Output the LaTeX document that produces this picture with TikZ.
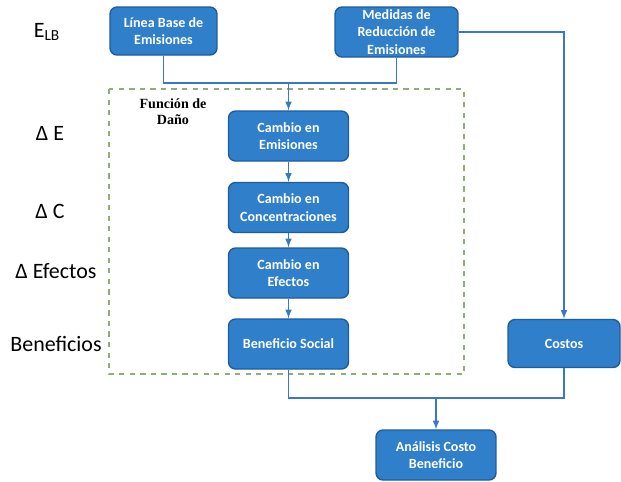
\documentclass[tikz,border=0pt]{standalone}
\usepackage{fontspec}
\setmainfont{Carlito}
\newfontfamily\serifbold{Liberation Serif}
\usetikzlibrary{arrows}
\definecolor{boxblue}{RGB}{47,127,203}
\definecolor{boxline}{RGB}{30,92,158}
\definecolor{linkblue}{RGB}{59,120,196}
\definecolor{dashgreen}{RGB}{143,174,122}

\begin{document}
\begin{tikzpicture}[x=0.02cm, y=-0.02cm]
        \tikzset{box/.style = {shape=rectangle,rounded corners=4pt,draw=boxline,fill=boxblue,line width=0.8pt,text=white,font=\fontsize{8}{10}\selectfont\bfseries,align=center,minimum width=2.4cm,minimum height=1cm,inner sep=1pt},
                 level/.style = {font=\fontsize{12.5}{14}\selectfont},
                 link/.style = {draw=linkblue,line width=0.7pt}}
        \useasboundingbox (0,0) rectangle (621,481);
        % damage function area
        \draw[dashgreen,dashed,line width=0.6pt] (109,89) rectangle (464,374);
        \node[font=\serifbold\fontsize{8}{9}\selectfont\bfseries,align=center] (dano) at (173,112) {Función de\\Daño};
        % boxes
        \node[box,minimum width=2.14cm,minimum height=0.96cm] (base) at (163.5,31) {Línea Base de\\Emisiones};
        \node[box,minimum width=2.46cm] (medidas) at (396.5,32) {Medidas de\\Reducción de\\Emisiones};
        \node[box] (dE) at (288.5,136) {Cambio en\\Emisiones};
        \node[box] (dC) at (288.5,207.5) {Cambio en\\Concentraciones};
        \node[box] (dEf) at (288.5,273) {Cambio en\\Efectos};
        \node[box] (social) at (288.5,344) {Beneficio Social};
        \node[box,minimum width=2.24cm,minimum height=0.96cm] (costos) at (564,343.5) {Costos};
        \node[box] (analisis) at (436,455) {Análisis Costo\\Beneficio};
        % levels
        \node[level] (elb) at (47,32) {E\textsubscript{LB}};
        \node[level] (deltaE) at (50,133) {Δ E};
        \node[level] (deltaC) at (50,211) {Δ C};
        \node[level] (deltaEf) at (56,271) {Δ Efectos};
        \node[level] (benef) at (56,344) {Beneficios};
        % connectors
        \coordinate (top) at (dE.north |- 0,83);
        \coordinate (bottom) at (analisis.north |- 0,398);
        \draw[link] (base.south) |- (top) -| (medidas.south);
        \draw[link,-latex] (top) -- (dE.north);
        \draw[link,-latex] (medidas.east) -| (costos.north);
        \draw[link,-latex] (dE.south) -- (dC.north);
        \draw[link,-latex] (dC.south) -- (dEf.north);
        \draw[link,-latex] (dEf.south) -- (social.north);
        \draw[link] (social.south) |- (bottom) -| (costos.south);
        \draw[link,-latex] (bottom) -- (analisis.north);
\end{tikzpicture}
\end{document}
